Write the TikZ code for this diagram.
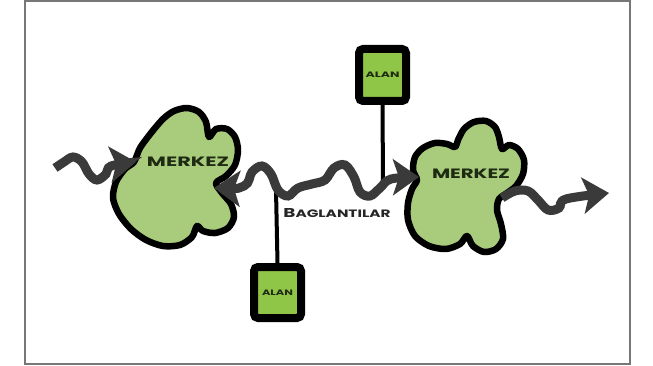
\documentclass[tikz,border=0pt]{standalone}
\usepackage{fontspec}
\usepackage{graphicx}
\usetikzlibrary{arrows.meta}
\newfontfamily\geofont{Poppins}
\definecolor{blobgreen}{HTML}{A8CB7C}
\definecolor{boxgreen}{HTML}{90C648}
\definecolor{wavegray}{HTML}{3A3A3A}
\definecolor{inkgreen}{HTML}{1F2A12}
\definecolor{framegray}{HTML}{777777}
\newcommand{\hubtext}[2]{\resizebox{#1}{9.5pt}{\geofont\bfseries #2}}
\newcommand{\alantext}[1]{\resizebox{#1}{5.5pt}{\geofont\bfseries ALAN}}
\begin{document}
\begin{tikzpicture}[x=1pt,y=-1pt,
  blob/.style={draw=black, line width=6.5pt, fill=blobgreen, line join=round},
  hub/.style={text=inkgreen, inner sep=0pt},
  alanbox/.style={draw=black, line width=8pt, fill=boxgreen, rounded corners=4pt,
    minimum width=47pt, minimum height=52pt, inner sep=0pt, text=inkgreen},
  stem/.style={draw=black, line width=4pt},
  wave/.style={draw=wavegray, line width=9pt},
  linklabel/.style={text=black!85, inner sep=0pt}
]
\useasboundingbox (0,0) rectangle (653,366);
\draw[framegray, line width=1.5pt] (25,1) rectangle (630,364);

% the two hubs, drawn as splats with round lobes
\draw[blob] plot[smooth cycle, tension=0.5] coordinates {
  (140,148) (151,133) (163,119) (174,111) (187,108) (199,112) (206,122) (209,137)
  (216,129) (227,129) (235,137) (238,150) (235,165) (226,176) (216,183)
  (222,193) (231,204) (234,217) (228,228) (215,233) (203,231) (197,226)
  (192,237) (180,245) (163,246) (146,240) (131,229) (119,214) (113,198)
  (116,182) (125,169) (134,162)};
\draw[blob] plot[smooth cycle, tension=0.5] coordinates {
  (458,140) (464,129) (474,122) (486,121) (495,127) (499,137) (502,149)
  (509,145) (518,149) (524,160) (523,174) (516,186) (507,193) (499,199)
  (497,210) (501,224) (503,239) (496,249) (484,252) (473,246) (467,236)
  (460,244) (446,249) (429,246) (415,236) (408,220) (408,203) (412,189) (417,180)
  (413,170) (415,157) (423,148) (435,143) (447,144) (455,147)};
\node[hub] (m1) at (188,162) {\hubtext{82pt}{MERKEZ}};
\node[hub] (m2) at (471,174) {\hubtext{78pt}{MERKEZ}};

% the two areas
\node[alanbox] (a1) at (382.5,75) {\alantext{34pt}};
\node[alanbox, minimum height=51pt] (a2) at (277.5,292.5) {\alantext{31pt}};

% contact points on the hubs and the link
\coordinate (inflow) at (55,168);
\coordinate (m1w) at (136,162);
\coordinate (m1e) at (214,188);
\coordinate (m2w) at (419,177);
\coordinate (m2e) at (502,198);
\coordinate (outflow) at (609,193);
\coordinate (j1) at (383,182);
\coordinate (j2) at (276,190);

% stems from the areas to the link
\draw[stem] (a1.south) -- (j1);
\draw[stem] (a2.north) -- (j2);

% wavy flows
\draw[wave, -{Stealth[length=26pt,width=36pt,inset=6pt]}] plot[smooth, tension=0.6] coordinates {
  (inflow) (64,162) (73,157) (82,162) (89,174) (97,180) (106,174) (111,166) (m1w)};
\draw[wave, {Stealth[length=26pt,width=36pt,inset=6pt]}-{Stealth[length=26pt,width=36pt,inset=6pt]}]
  plot[smooth, tension=0.6] coordinates {
  (m1e) (244,186) (252,172) (262,166) (271,174) (278,190) (288,196) (298,188)
  (312,184) (325,180) (334,168) (345,165) (354,177) (360,192) (370,196)
  (380,188) (391,179) (m2w)};
\draw[wave, -{Stealth[length=26pt,width=36pt,inset=6pt]}] plot[smooth, tension=0.6] coordinates {
  (m2e) (515,191) (528,191) (538,200) (548,210) (559,208) (566,199) (outflow)};

\node[linklabel] (lbl) at (337,213) {\resizebox{107pt}{9pt}{\geofont\bfseries{\large B}AGLANTILAR}};
\end{tikzpicture}
\end{document}
